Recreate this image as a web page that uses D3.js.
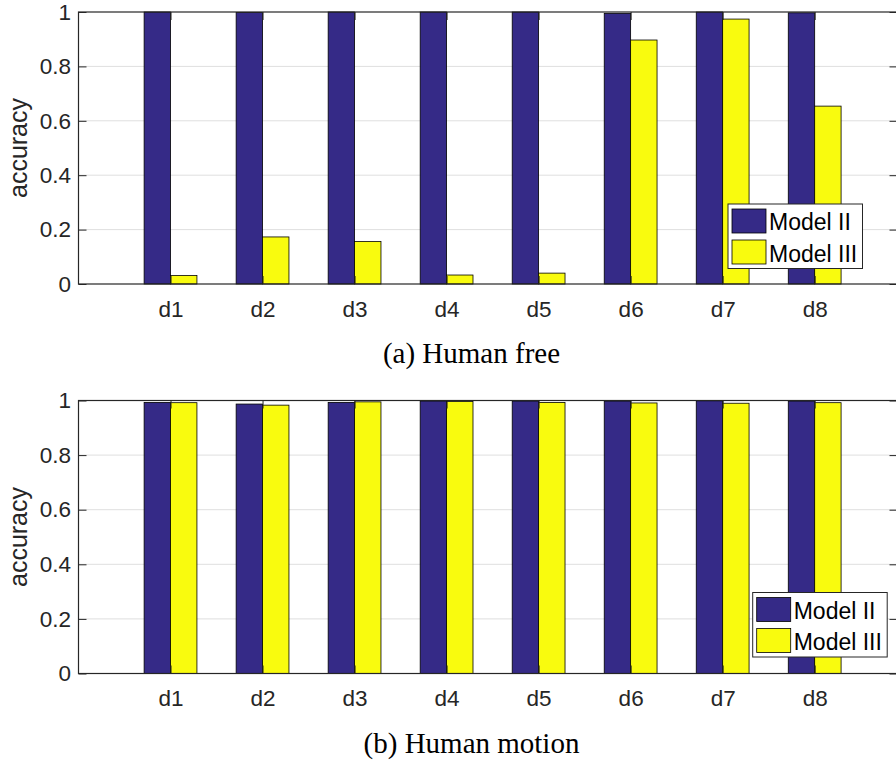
<!DOCTYPE html>
<html>
<head>
<meta charset="utf-8">
<script src="https://cdn.jsdelivr.net/npm/d3@7"></script>
<style>
  html, body { margin: 0; padding: 0; background: #fff; }
  svg { display: block; }
</style>
</head>
<body>
<svg id="chart" width="896" height="761"></svg>
<script>
// Categories and series
const categories = ["d1", "d2", "d3", "d4", "d5", "d6", "d7", "d8"];
const seriesNames = ["Model II", "Model III"];
const yTicks = [0, 0.2, 0.4, 0.6, 0.8, 1];

// (a) Human free
const freeModel2 = [1.000, 0.998, 1.000, 1.000, 1.000, 0.995, 1.000, 0.997];
const freeModel3 = [0.031, 0.173, 0.156, 0.033, 0.040, 0.897, 0.974, 0.654];

// (b) Human motion
const motionModel2 = [0.993, 0.987, 0.993, 0.998, 0.998, 0.998, 0.999, 0.998];
const motionModel3 = [0.992, 0.983, 0.995, 0.996, 0.993, 0.991, 0.990, 0.992];

const colors = ["#352a87", "#f9fb0e"];
const axisColor = "#262626";
const gridColor = "#dfdfdf";
const sansFont = "'Liberation Sans', Arial, Helvetica, sans-serif";
const serifFont = "'Liberation Serif', 'Times New Roman', serif";

const svg = d3.select("#chart");

const panels = [
  { top: 12, bottom: 284, s2: freeModel2, s3: freeModel3, caption: "(a) Human free",
    captionY: 363, legendX: 728 },
  { top: 400.5, bottom: 673.5, s2: motionModel2, s3: motionModel3, caption: "(b) Human motion",
    captionY: 752.5, legendX: 752.7 }
];

const plotLeft = 78.5, plotRight = 897.5;
const barW = 0.287;     // width of each bar, in category units
const tickLen = 8;

panels.forEach(p => {
  const g = svg.append("g");
  const x = d3.scaleLinear().domain([0, 8.9]).range([plotLeft, plotRight]);
  const y = d3.scaleLinear().domain([0, 1]).range([p.bottom, p.top]);

  // horizontal grid lines
  g.append("g").selectAll("line").data(yTicks.slice(1, -1)).join("line")
    .attr("x1", plotLeft).attr("x2", plotRight)
    .attr("y1", d => y(d)).attr("y2", d => y(d))
    .attr("stroke", gridColor).attr("stroke-width", 1);

  // bars: Model II to the left of each category position, Model III to the right
  const rows = categories.map((c, i) => ({ i: i + 1, v: [p.s2[i], p.s3[i]] }));
  [0, 1].forEach(k => {
    g.append("g").selectAll("rect").data(rows).join("rect")
      .attr("x", d => x(d.i + (k === 0 ? -barW : 0)))
      .attr("width", x(barW) - x(0))
      .attr("y", d => y(d.v[k]))
      .attr("height", d => y(0) - y(d.v[k]))
      .attr("fill", colors[k])
      .attr("stroke", "#000").attr("stroke-width", 0.8);
  });

  // left y axis with inward ticks and labels
  const yAxis = d3.axisLeft(y).tickValues(yTicks)
    .tickFormat(d => d === 0 || d === 1 ? String(d) : d3.format(".1f")(d))
    .tickSizeInner(-tickLen).tickSizeOuter(0).tickPadding(7.5);
  const ya = g.append("g").attr("transform", `translate(${plotLeft},0)`).call(yAxis);
  ya.select(".domain").remove();
  ya.selectAll("line").attr("stroke", axisColor);
  ya.selectAll("text").attr("fill", axisColor)
    .style("font-family", sansFont).style("font-size", "22.5px");

  // right-side inward ticks
  const yr = g.append("g").attr("transform", `translate(${plotRight},0)`)
    .call(d3.axisRight(y).tickValues(yTicks).tickSizeInner(-tickLen).tickSizeOuter(0).tickFormat(""));
  yr.select(".domain").remove();
  yr.selectAll("line").attr("stroke", axisColor);

  // bottom x axis (category labels) and top inward ticks
  const xb = g.append("g").attr("transform", `translate(0,${p.bottom})`)
    .call(d3.axisBottom(x).tickValues(d3.range(1, 9))
      .tickFormat(d => categories[d - 1])
      .tickSizeInner(-tickLen).tickSizeOuter(0).tickPadding(17));
  xb.select(".domain").remove();
  xb.selectAll("line").attr("stroke", axisColor);
  xb.selectAll("text").attr("fill", axisColor)
    .style("font-family", sansFont).style("font-size", "22.5px");

  const xt = g.append("g").attr("transform", `translate(0,${p.top})`)
    .call(d3.axisTop(x).tickValues(d3.range(1, 9)).tickFormat("")
      .tickSizeInner(-tickLen).tickSizeOuter(0));
  xt.select(".domain").remove();
  xt.selectAll("line").attr("stroke", axisColor);

  // axes box
  g.append("rect")
    .attr("x", plotLeft).attr("y", p.top)
    .attr("width", plotRight - plotLeft).attr("height", p.bottom - p.top)
    .attr("fill", "none").attr("stroke", axisColor).attr("stroke-width", 1.2);

  // y label
  g.append("text")
    .attr("transform", `translate(27,${(p.top + p.bottom) / 2}) rotate(-90)`)
    .attr("text-anchor", "middle")
    .attr("fill", axisColor)
    .style("font-family", sansFont).style("font-size", "25px")
    .text("accuracy");

  // legend
  const lg = g.append("g").attr("transform", `translate(${p.legendX},${p.top + 192})`);
  lg.append("rect").attr("x", 0).attr("y", 0).attr("width", 134.5).attr("height", 64.5)
    .attr("fill", "#fff").attr("stroke", axisColor).attr("stroke-width", 1);
  seriesNames.forEach((name, k) => {
    lg.append("rect").attr("x", 4).attr("y", 5 + k * 31).attr("width", 34).attr("height", 24)
      .attr("fill", colors[k]).attr("stroke", "#000").attr("stroke-width", 0.8);
    lg.append("text").attr("x", 41).attr("y", 26 + k * 31.5)
      .attr("fill", "#000")
      .style("font-family", sansFont).style("font-size", "23px")
      .text(name);
  });

  // caption
  svg.append("text")
    .attr("x", 471.5).attr("y", p.captionY)
    .attr("text-anchor", "middle")
    .attr("fill", "#000")
    .style("font-family", serifFont).style("font-size", "29px")
    .text(p.caption);
});
</script>
</body>
</html>
